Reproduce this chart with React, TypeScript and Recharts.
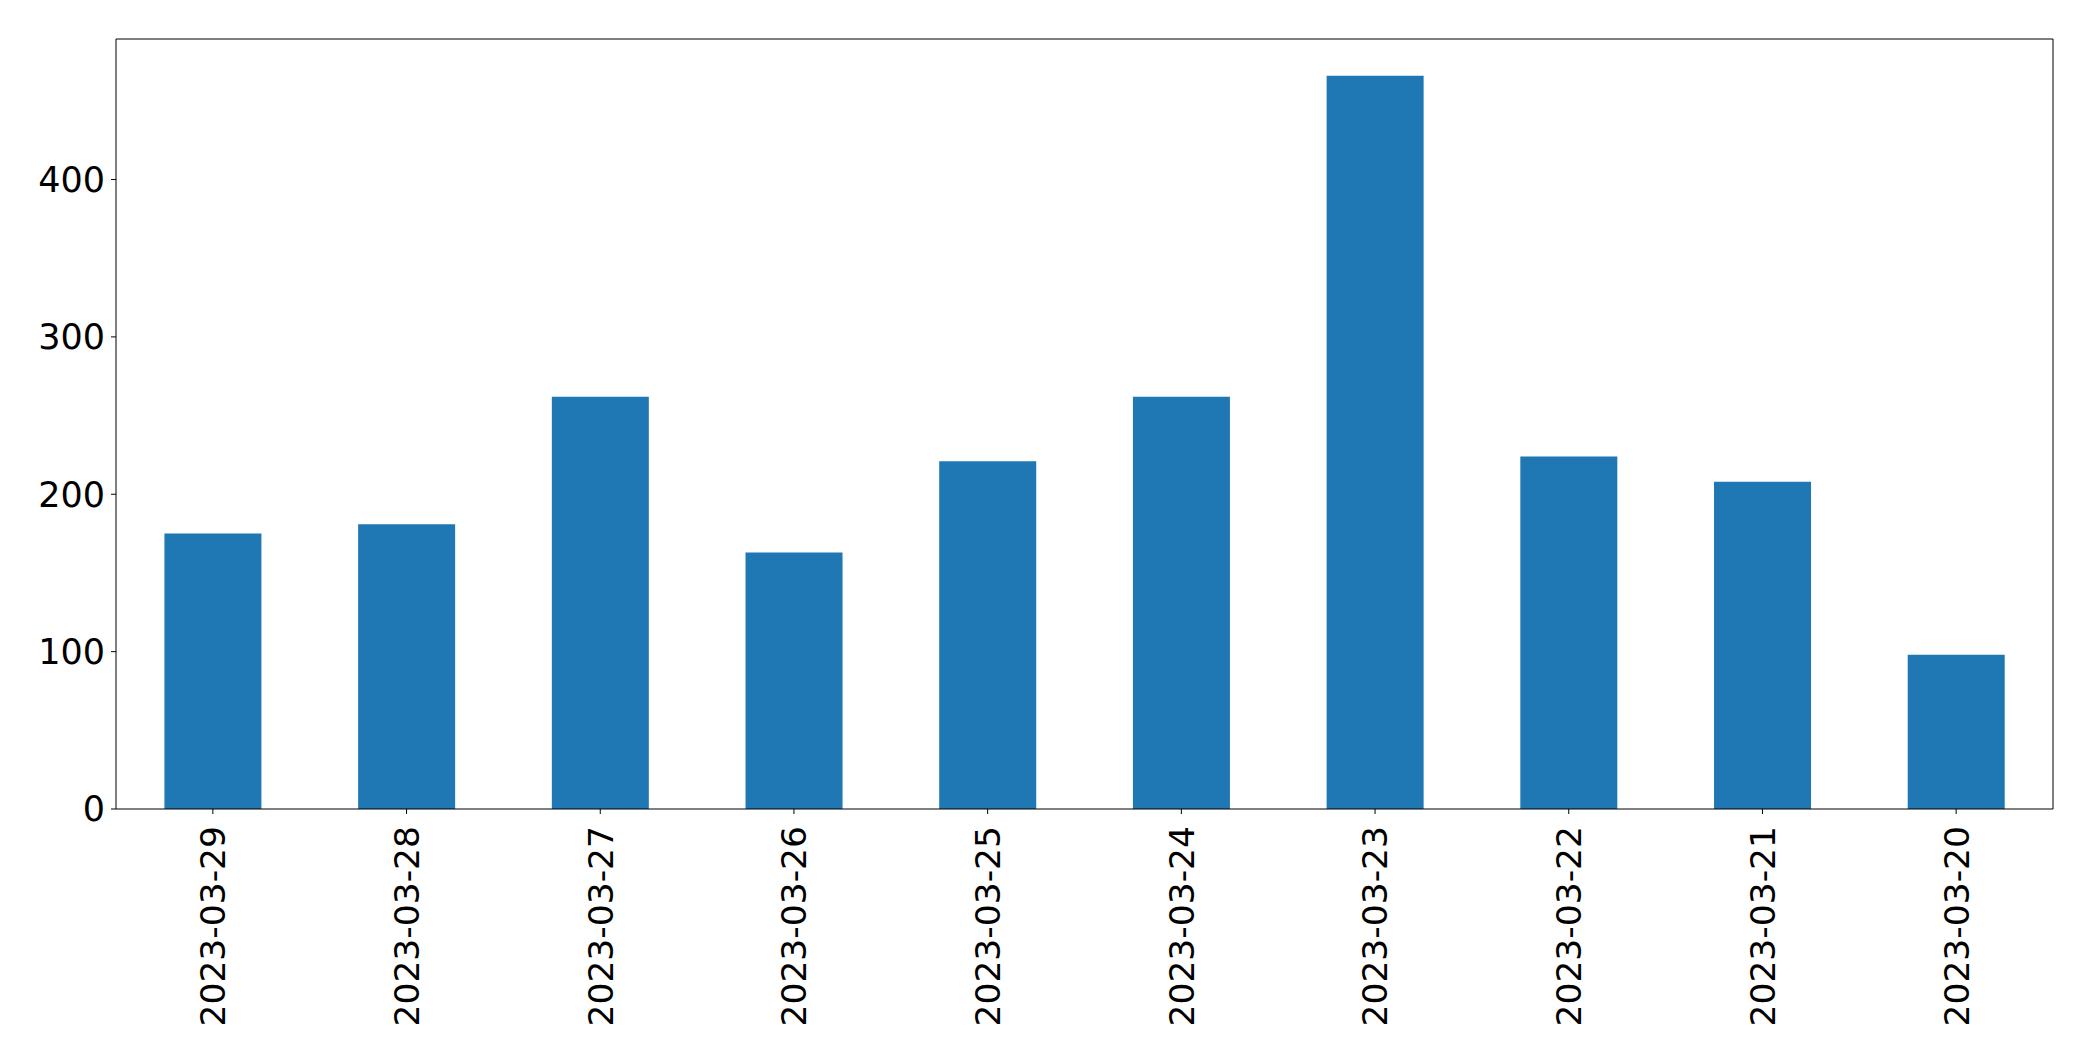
import { BarChart, Bar, XAxis, YAxis } from 'recharts'

const dates = [
  '2023-03-29', '2023-03-28', '2023-03-27', '2023-03-26', '2023-03-25',
  '2023-03-24', '2023-03-23', '2023-03-22', '2023-03-21', '2023-03-20',
]
const counts = [175, 181, 262, 163, 221, 262, 466, 224, 208, 98]
const yTicks = [0, 100, 200, 300, 400]

const data = dates.map((date, i) => ({ date, count: counts[i] }))

const FONT = '"DejaVu Sans", sans-serif'

function DateTick({ x, y, payload }: any) {
  return (
    <text
      x={x}
      y={y}
      transform={`rotate(-90, ${x}, ${y})`}
      textAnchor="end"
      dy="0.36em"
      fontSize={34.5}
      fontFamily={FONT}
      fill="#000"
    >
      {payload.value}
    </text>
  )
}

export default function App() {
  return (
    <div style={{ position: 'absolute', left: 0, top: 0, background: '#fff' }}>
      <BarChart
        width={2093}
        height={1061}
        data={data}
        margin={{ top: 38, right: 39, bottom: 0, left: 0 }}
        barCategoryGap="25%"
      >
        <XAxis
          dataKey="date"
          height={252}
          interval={0}
          tick={<DateTick />}
          tickSize={5}
          tickMargin={12}
          axisLine={{ stroke: '#000', strokeWidth: 1 }}
          tickLine={{ stroke: '#000', strokeWidth: 1 }}
        />
        <XAxis
          xAxisId="top"
          dataKey="date"
          orientation="top"
          height={1}
          tick={false}
          tickLine={false}
          axisLine={{ stroke: '#000', strokeWidth: 1 }}
        />
        <YAxis
          width={116}
          domain={[0, 489.3]}
          ticks={yTicks}
          interval={0}
          tickSize={5}
          tickMargin={6}
          tick={{ fontSize: 35, fontFamily: FONT, fill: '#000' }}
          axisLine={{ stroke: '#000', strokeWidth: 1 }}
          tickLine={{ stroke: '#000', strokeWidth: 1 }}
        />
        <YAxis
          yAxisId="right"
          orientation="right"
          width={1}
          domain={[0, 489.3]}
          tick={false}
          tickLine={false}
          axisLine={{ stroke: '#000', strokeWidth: 1 }}
        />
        <Bar dataKey="count" fill="#1f77b4" isAnimationActive={false} />
      </BarChart>
    </div>
  )
}
